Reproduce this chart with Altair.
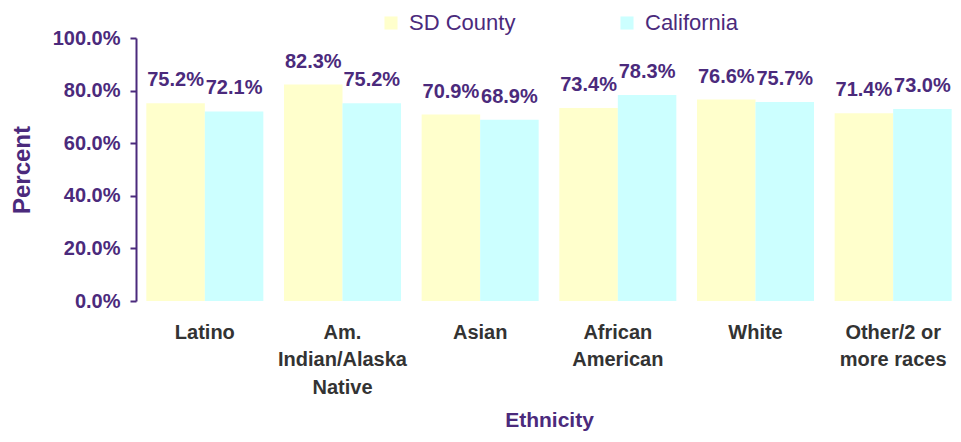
import altair as alt
import pandas as pd

categories = ["Latino", "Am.|Indian/Alaska|Native", "Asian", "African|American", "White", "Other/2 or|more races"]
sd_county = [0.752, 0.823, 0.709, 0.734, 0.766, 0.714]
california = [0.721, 0.752, 0.689, 0.783, 0.757, 0.730]
series = ["SD County", "California"]
colors = ["#FFFFCC", "#CCFFFF"]
y_ticks = [0, 0.2, 0.4, 0.6, 0.8, 1.0]

rows = []
for i, c in enumerate(categories):
    rows.append({"cat": c, "series": series[0], "value": sd_county[i]})
    rows.append({"cat": c, "series": series[1], "value": california[i]})
df = pd.DataFrame(rows)

PURPLE = "#4B2A7C"
FONT = "Liberation Sans"

x = alt.X("cat:N", sort=categories,
          scale=alt.Scale(range=[0, 826], paddingInner=0.15, paddingOuter=0.075),
          axis=alt.Axis(title="Ethnicity", labelAngle=0, ticks=False, domain=False,
                        labelExpr="split(datum.label, '|')", labelLineHeight=27.5,
                        labelFont=FONT, labelFontSize=20, labelFontWeight="bold",
                        labelColor="#333333", labelPadding=21, labelLimit=300,
                        titleFont=FONT, titleFontSize=21, titleFontWeight="bold",
                        titleColor=PURPLE, titlePadding=12))
xoff = alt.XOffset("series:N", sort=series, scale=alt.Scale(paddingInner=0, paddingOuter=0))

bars = alt.Chart(df).mark_bar().encode(
    x=x,
    xOffset=xoff,
    y=alt.Y("value:Q", scale=alt.Scale(domain=[0, 1], nice=False),
            axis=alt.Axis(title="Percent", values=y_ticks, format=".1%", grid=False,
                          domainColor=PURPLE, domainWidth=2, tickColor=PURPLE,
                          tickWidth=2, tickSize=6, labelPadding=10,
                          labelFont=FONT, labelFontSize=20, labelFontWeight="bold",
                          labelColor=PURPLE, titleFont=FONT, titleFontSize=24,
                          titleFontWeight="bold", titleColor=PURPLE, titlePadding=18)),
    color=alt.Color("series:N", sort=series,
                    scale=alt.Scale(domain=series, range=colors),
                    legend=alt.Legend(title=None, orient="none", direction="horizontal",
                                      legendX=244, legendY=-26, padding=0,
                                      symbolType="square", symbolSize=170,
                                      symbolStrokeWidth=0, symbolOpacity=1,
                                      labelFont=FONT, labelFontSize=22,
                                      labelColor=PURPLE, labelOffset=7,
                                      columnPadding=100)),
)

labels = alt.Chart(df).mark_text(
    baseline="alphabetic", dy=-17, font=FONT, fontSize=20, fontWeight="bold", color=PURPLE
).encode(
    x=alt.X("cat:N", sort=categories),
    xOffset=xoff,
    y="value:Q",
    text=alt.Text("value:Q", format=".1%"),
)

chart = alt.layer(bars, labels).properties(
    width=817, height=263,
    padding={"left": 128, "top": 30, "right": 0, "bottom": 133},
    autosize=alt.AutoSizeParams(type="none"),
).configure_view(stroke=None)

chart.save("out.html", embed_options={"renderer": "svg", "actions": False})
